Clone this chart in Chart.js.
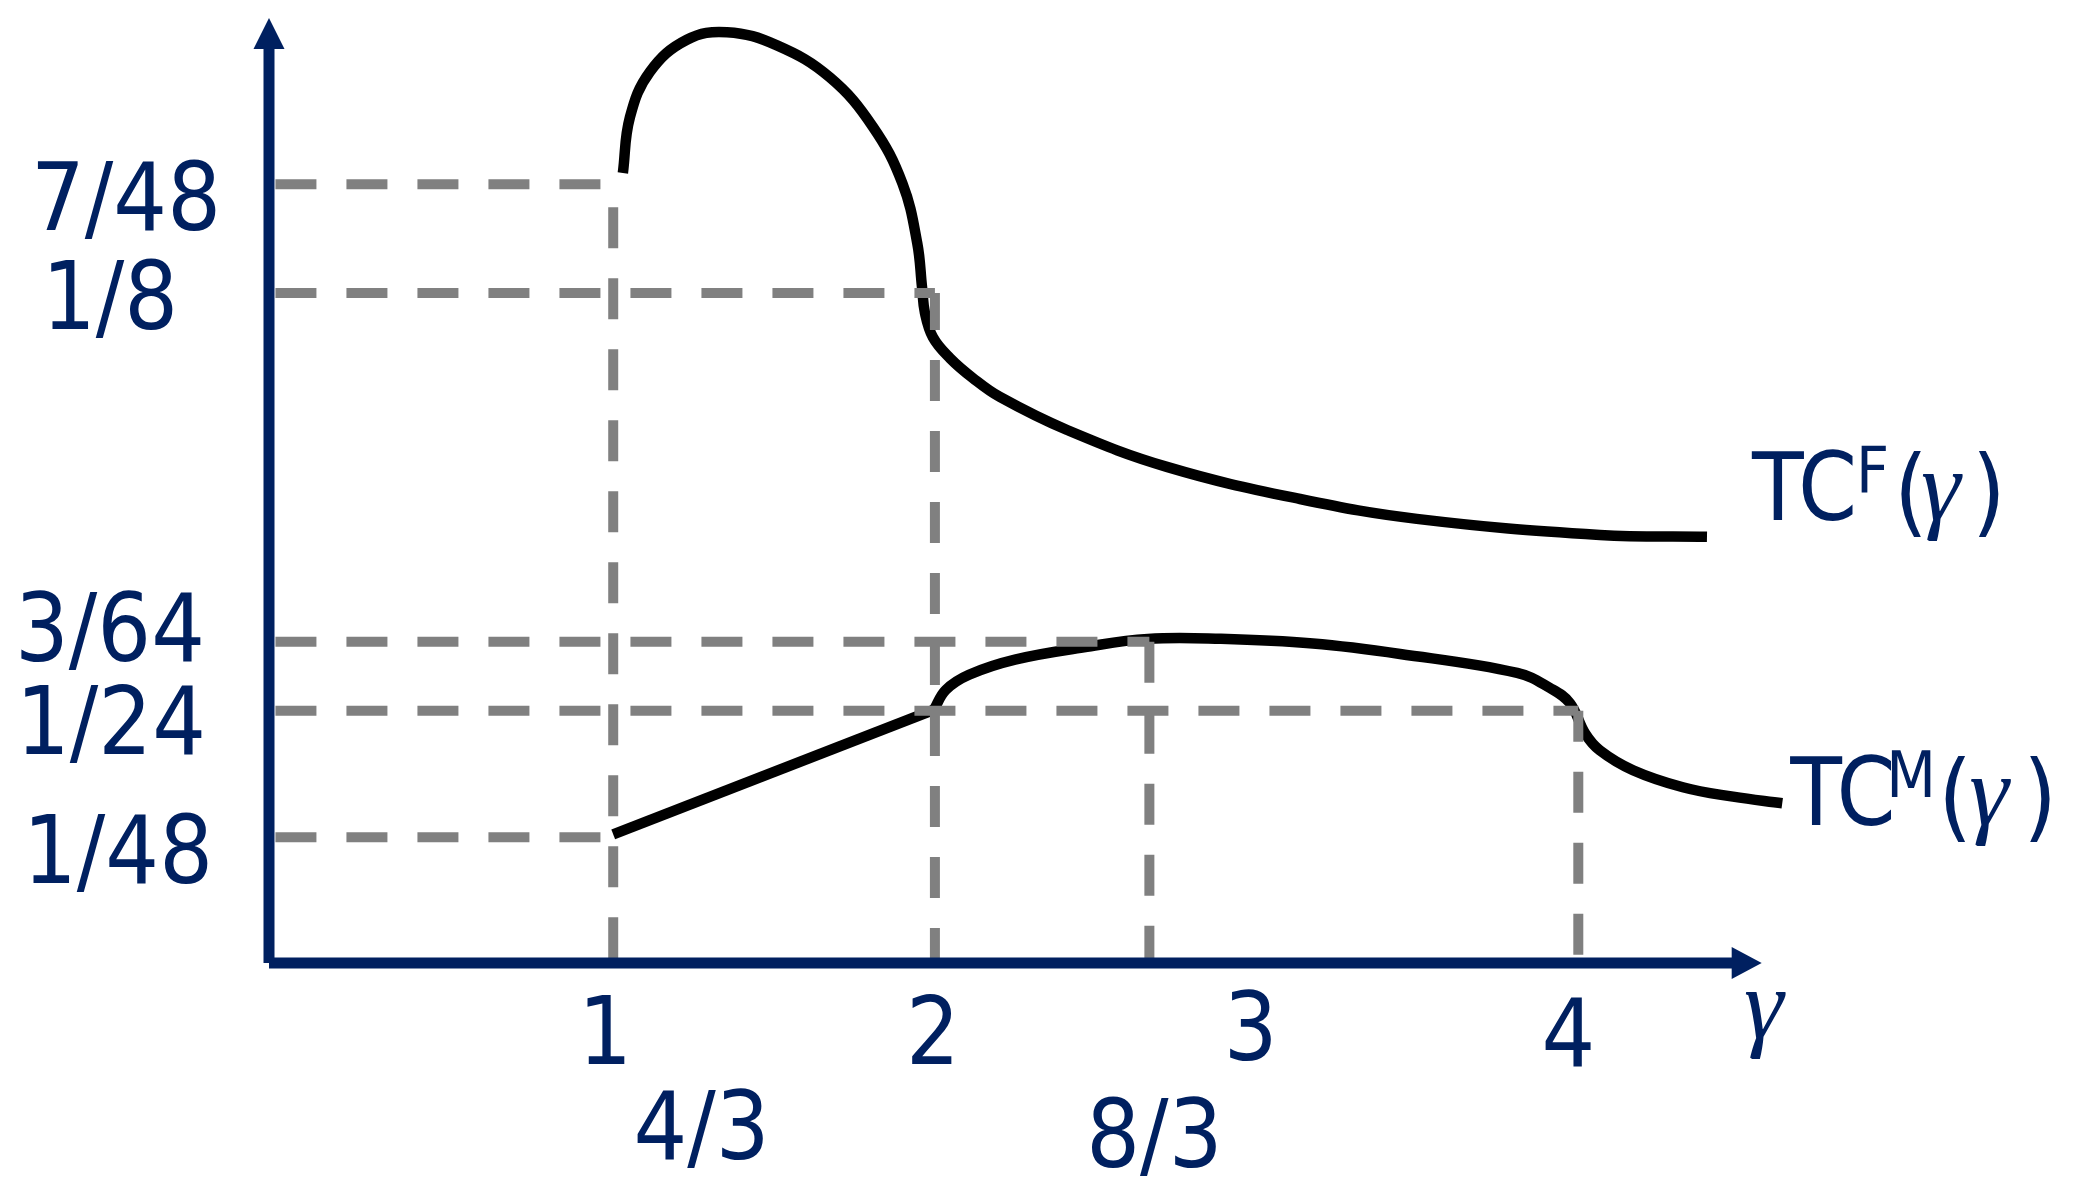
<!DOCTYPE html>
<html>
<head>
<meta charset="utf-8">
<script src="https://cdn.jsdelivr.net/npm/chart.js@4.4.1/dist/chart.umd.min.js"></script>
<style>
html,body{margin:0;padding:0;background:#ffffff;overflow:hidden}
#wrap{width:2078px;height:1183px;position:relative;background:#ffffff}
</style>
</head>
<body>
<div id="wrap"><canvas id="c" width="2078" height="1183"></canvas></div>
<script>
// ---------------- data ----------------
// x axis: gamma (linear). y axis: schematic levels (0..100) – the picture's
// y axis is not to scale, so values are stored as levels and labelled with fractions.
const xTickValues   = [1, 2, 3, 4];
const xTickLabels   = ['1', '2', '3', '4'];
const xSubValues    = [4/3, 8/3];
const xSubLabels    = ['4/3', '8/3'];
const yTickLevels   = [13.3, 26.7, 34.0, 70.9, 82.4];
const yTickLabels   = ['1/48', '1/24', '3/64', '1/8', '7/48'];
// end (gamma) of each horizontal dashed guide, same order as yTickLevels
const hGuideEnd     = [1, 4, 8/3, 2, 1];
// vertical dashed guides: gamma and index of the level they drop from
const vGuideGamma   = [1, 2, 8/3, 4];
const vGuideFrom    = [4, 3, 2, 1];

const tcfGamma = [1.030, 1.052, 1.114, 1.229, 1.354, 1.509, 1.674, 1.807, 1.899, 1.945,
                  1.960, 1.969, 1.994, 2.047, 2.118, 2.202, 2.411, 2.721, 3.135, 3.498,
                  4.067, 4.400];
const tcfLevel = [83.6, 89.5, 94.3, 97.7, 98.5, 97.1, 93.7, 88.5, 82.5, 76.2,
                  71.5, 68.8, 66.2, 64.0, 61.9, 59.9, 56.4, 52.5, 49.1, 47.0,
                  45.3, 45.1];

const tcmLineGamma = [1.0, 1.997];
const tcmLineLevel = [13.6, 26.8];

const tcmCurveGamma = [1.997, 2.034, 2.106, 2.249, 2.463, 2.662, 2.889, 3.175, 3.446, 3.810,
                       3.912, 3.974, 4.021, 4.067, 4.170, 4.325, 4.481, 4.634];
const tcmCurveLevel = [26.8, 28.9, 30.5, 32.1, 33.4, 34.3, 34.3, 33.8, 32.7, 30.7,
                       29.1, 27.5, 24.3, 22.5, 20.4, 18.6, 17.6, 16.9];

const seriesLabels = ['TC', 'F', 'TC', 'M'];
const axisName = '\u03B3';

// ---------------- style ----------------
const NAVY = '#002060';
const GUIDE = '#808080';
const SANS = "'DejaVu Sans Condensed','DejaVu Sans',sans-serif";
const SERIF = "'Liberation Serif','DejaVu Serif',serif";
const guideStart = -0.05;
const xAxisEnd = 4.57;
const vDashOffset = [48, 4, 0, 10];

const pts = (xs, ys) => xs.map((v, i) => ({x: v, y: ys[i]}));

const datasets = [];
yTickLevels.forEach((lv, i) => {
  datasets.push({
    data: [{x: guideStart, y: lv}, {x: hGuideEnd[i], y: lv}],
    borderColor: GUIDE, borderWidth: 10, borderDash: [41, 30],
    pointRadius: 0, tension: 0, order: 0
  });
});
vGuideGamma.forEach((g, i) => {
  datasets.push({
    data: [{x: g, y: yTickLevels[vGuideFrom[i]]}, {x: g, y: 0}],
    borderColor: GUIDE, borderWidth: 10, borderDash: [41, 30], borderDashOffset: vDashOffset[i],
    pointRadius: 0, tension: 0, order: 0
  });
});
datasets.push({
  label: 'TCF', data: pts(tcfGamma, tcfLevel),
  borderColor: '#000000', borderWidth: 10.5, pointRadius: 0, tension: 0.4, order: 1
});
datasets.push({
  label: 'TCM line', data: pts(tcmLineGamma, tcmLineLevel),
  borderColor: '#000000', borderWidth: 10.5, pointRadius: 0, tension: 0, order: 1
});
datasets.push({
  label: 'TCM', data: pts(tcmCurveGamma, tcmCurveLevel),
  borderColor: '#000000', borderWidth: 10.5, pointRadius: 0, tension: 0.4, order: 1
});

function put(ctx, s, x, y, size, family, align, italic) {
  ctx.font = (italic ? 'italic ' : '') + size + 'px ' + family;
  if (family === SANS) { try { ctx.fontStretch = 'condensed'; } catch (e) {} }
  else { try { ctx.fontStretch = 'normal'; } catch (e) {} }
  ctx.textAlign = align || 'left';
  ctx.textBaseline = 'alphabetic';
  ctx.fillText(s, x, y);
}

const overlay = {
  id: 'overlay',
  afterDatasetsDraw(chart) {
    const {ctx, chartArea: a, scales: {x}} = chart;
    ctx.save();
    ctx.strokeStyle = NAVY; ctx.fillStyle = NAVY; ctx.lineWidth = 11; ctx.lineCap = 'butt';
    ctx.setLineDash([]);
    // y axis with arrow
    ctx.beginPath(); ctx.moveTo(a.left, a.bottom); ctx.lineTo(a.left, a.top + 30); ctx.stroke();
    ctx.beginPath(); ctx.moveTo(a.left, a.top); ctx.lineTo(a.left - 15.5, a.top + 31);
    ctx.lineTo(a.left + 15.5, a.top + 31); ctx.closePath(); ctx.fill();
    // x axis with arrow
    const xt = x.getPixelForValue(xAxisEnd);
    ctx.beginPath(); ctx.moveTo(a.left, a.bottom); ctx.lineTo(xt - 29, a.bottom); ctx.stroke();
    ctx.beginPath(); ctx.moveTo(xt, a.bottom); ctx.lineTo(xt - 30, a.bottom - 16);
    ctx.lineTo(xt - 30, a.bottom + 16); ctx.closePath(); ctx.fill();
    ctx.restore();
  },
  afterDraw(chart) {
    const {ctx, chartArea: a, scales: {x, y}} = chart;
    ctx.save();
    ctx.fillStyle = NAVY;
    // y tick labels
    const yCx = [118, 111, 110, 110, 126];
    const yDy = [46, 43, 19, 36, 46];
    yTickLabels.forEach((s, i) => {
      put(ctx, s, yCx[i], y.getPixelForValue(yTickLevels[i]) + yDy[i], 94, SANS, 'center');
    });
    // x tick labels
    const xDx = [-8, -2, -6, -10];
    const xDy = [101, 101, 97, 103];
    xTickLabels.forEach((s, i) => {
      put(ctx, s, x.getPixelForValue(xTickValues[i]) + xDx[i], a.bottom + xDy[i], 94, SANS, 'center');
    });
    const sDx = [-19, 5];
    const sDy = [196, 204];
    xSubLabels.forEach((s, i) => {
      put(ctx, s, x.getPixelForValue(xSubValues[i]) + sDx[i], a.bottom + sDy[i], 94, SANS, 'center');
    });
    // axis name
    put(ctx, axisName, x.getPixelForValue(xAxisEnd) + 2, a.bottom + 75, 100, SERIF, 'center', true);

    // series labels
    function seriesLabel(lx, by, main, sup, o) {
      put(ctx, main, lx, by, 94, SANS, 'left');
      put(ctx, sup, lx + o[0], by - 28, 64, SANS, 'left');
      put(ctx, '(', lx + o[1], by + 4, 96, SANS, 'left');
      put(ctx, axisName, lx + o[2], by, 100, SERIF, 'left', true);
      put(ctx, ')', lx + o[3], by + 4, 96, SANS, 'left');
    }
    const fEndX = x.getPixelForValue(tcfGamma[tcfGamma.length - 1]);
    const fEndY = y.getPixelForValue(tcfLevel[tcfLevel.length - 1]);
    seriesLabel(fEndX + 45, fEndY - 17, seriesLabels[0], seriesLabels[1], [104, 142, 169, 220]);
    const mEndX = x.getPixelForValue(tcmCurveGamma[tcmCurveGamma.length - 1]);
    const mEndY = y.getPixelForValue(tcmCurveLevel[tcmCurveLevel.length - 1]);
    seriesLabel(mEndX + 8, mEndY + 22, seriesLabels[2], seriesLabels[3], [96, 148, 179, 233]);
    ctx.restore();
  }
};

new Chart(document.getElementById('c'), {
  type: 'line',
  data: {datasets},
  options: {
    responsive: false,
    animation: false,
    devicePixelRatio: 1,
    layout: {padding: {left: 269, top: 18, right: 178, bottom: 220}},
    scales: {
      x: {type: 'linear', min: -0.07, max: 5, display: false},
      y: {type: 'linear', min: 0, max: 100, display: false}
    },
    plugins: {legend: {display: false}, tooltip: {enabled: false}},
    elements: {line: {borderCapStyle: 'butt', borderJoinStyle: 'round'}}
  },
  plugins: [overlay]
});
</script>
</body>
</html>
